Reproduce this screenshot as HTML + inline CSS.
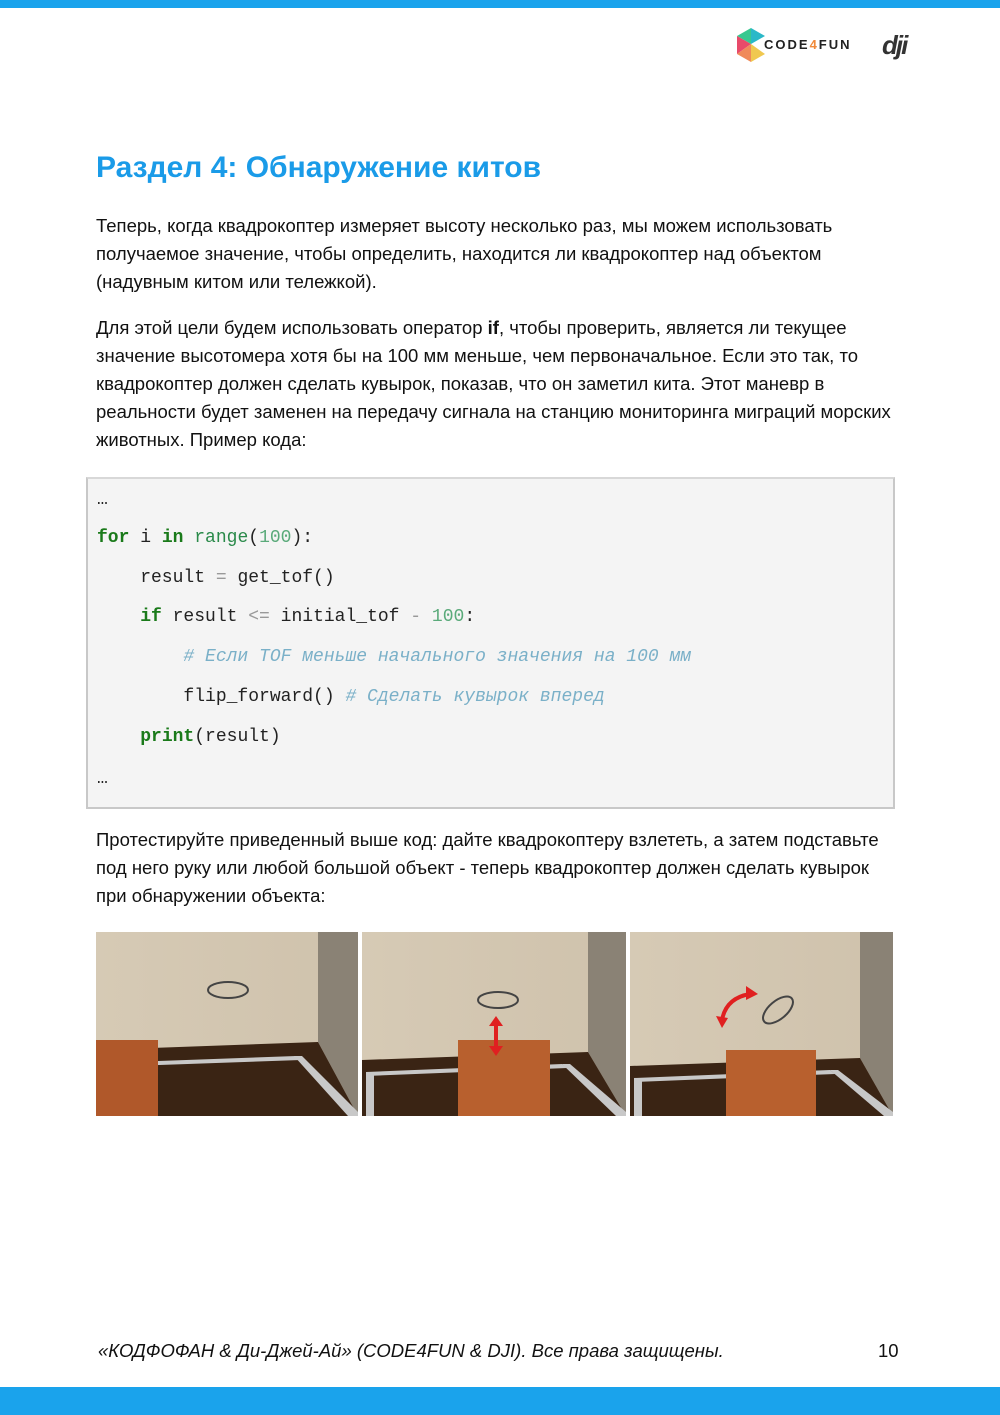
<!DOCTYPE html>
<html><head><meta charset="utf-8"><style>
body{margin:0;width:1000px;height:1415px;position:relative;background:#fff;font-family:"Liberation Sans",Arial,sans-serif;color:#111;overflow:hidden}
.abs{position:absolute}
.p{position:absolute;left:96px;font-size:18.5px;line-height:28px;white-space:nowrap}
.code{position:absolute;left:86px;top:477px;width:805px;height:328px;background:#f4f4f4;border:2px solid #c8c8c8;border-top-color:#d8d8d8}
.cl{position:absolute;left:9px;font-family:"Liberation Mono",monospace;font-size:18px;white-space:pre;color:#222;line-height:20px}
.k{color:#1a7a1a;font-weight:bold}.n{color:#5aaa7a}.c{color:#7ab0c8;font-style:italic}.o{color:#999}
</style></head><body>
<div class="abs" style="left:0;top:0;width:1000px;height:8px;background:#1aa3ec"></div>
<div class="abs" style="left:0;top:1387px;width:1000px;height:28px;background:#1aa3ec"></div>
<svg class="abs" style="left:733px;top:26px" width="36" height="40" viewBox="0 0 36 40">
<polygon points="18,2 32,10 18,18" fill="#2ab8c8"/><polygon points="18,2 4,10 18,18" fill="#38c890"/>
<polygon points="4,10 4,28 18,18" fill="#e84a6a"/><polygon points="4,28 18,36 18,18" fill="#f08a5a"/>
<polygon points="18,36 32,28 18,18" fill="#f0c850"/></svg>
<div class="abs" style="left:764px;top:37px;font-size:13px;font-weight:bold;letter-spacing:2px;color:#222">CODE<span style="color:#f08a3a">4</span>FUN</div>
<div class="abs" style="left:882px;top:30px;font-size:26px;font-weight:bold;font-style:italic;color:#333;letter-spacing:-2px">dji</div>
<div class="abs" style="left:96px;top:151px;font-size:30px;font-weight:bold;color:#1a9be8">Раздел 4: Обнаружение китов</div>
<div class="p" style="top:212px">Теперь, когда квадрокоптер измеряет высоту несколько раз, мы можем использовать<br>получаемое значение, чтобы определить, находится ли квадрокоптер над объектом<br>(надувным китом или тележкой).</div>
<div class="p" style="top:314px">Для этой цели будем использовать оператор <b>if</b>, чтобы проверить, является ли текущее<br>значение высотомера хотя бы на 100 мм меньше, чем первоначальное. Если это так, то<br>квадрокоптер должен сделать кувырок, показав, что он заметил кита. Этот маневр в<br>реальности будет заменен на передачу сигнала на станцию мониторинга миграций морских<br>животных. Пример кода:</div>
<div class="code">
<div class="cl" style="top:11px">…</div>
<div class="cl" style="top:49px"><span class="k">for</span> i <span class="k">in</span> <span style="color:#2a8a4a">range</span>(<span class="n">100</span>):</div>
<div class="cl" style="top:89px">    result <span class="o">=</span> get_tof()</div>
<div class="cl" style="top:128px">    <span class="k">if</span> result <span class="o">&lt;=</span> initial_tof <span class="o">-</span> <span class="n">100</span>:</div>
<div class="cl" style="top:168px">        <span class="c"># Если TOF меньше начального значения на 100 мм</span></div>
<div class="cl" style="top:208px">        flip_forward() <span class="c"># Сделать кувырок вперед</span></div>
<div class="cl" style="top:248px">    <span class="k">print</span>(result)</div>
<div class="cl" style="top:290px">…</div>
</div>
<div class="p" style="top:826px">Протестируйте приведенный выше код: дайте квадрокоптеру взлететь, а затем подставьте<br>под него руку или любой большой объект - теперь квадрокоптер должен сделать кувырок<br>при обнаружении объекта:</div>
<svg class="abs" style="left:96px;top:932px" width="797" height="184">
<defs><linearGradient id="w" x1="0" x2="1"><stop offset="0" stop-color="#d6cab5"/><stop offset="1" stop-color="#cfc2ac"/></linearGradient></defs>
<g>
<rect x="0" y="0" width="262" height="184" fill="url(#w)"/>
<polygon points="222,0 262,0 262,184 222,110" fill="#8a8275"/>
<polygon points="0,118 222,110 262,184 0,184" fill="#3a2414"/>
<polygon points="35,130 200,124 205,128 35,134" fill="#c8c8c8"/>
<polygon points="198,124 206,124 262,180 262,184 252,184" fill="#c8c8c8"/>
<rect x="0" y="108" width="62" height="76" fill="#b0582a"/>
<ellipse cx="132" cy="58" rx="20" ry="8" fill="none" stroke="#444" stroke-width="2"/>
</g>
<g transform="translate(266,0)">
<rect x="0" y="0" width="264" height="184" fill="url(#w)"/>
<polygon points="226,0 264,0 264,184 226,120" fill="#8a8275"/>
<polygon points="0,128 226,120 264,184 0,184" fill="#3a2414"/>
<polygon points="4,140 200,132 205,136 4,144" fill="#c8c8c8"/>
<rect x="4" y="140" width="8" height="44" fill="#c8c8c8"/>
<polygon points="200,132 208,132 264,180 264,184 254,184" fill="#c8c8c8"/>
<rect x="96" y="108" width="92" height="76" fill="#b8602e"/>
<ellipse cx="136" cy="68" rx="20" ry="8" fill="none" stroke="#444" stroke-width="2"/>
<rect x="132" y="92" width="4" height="24" fill="#e02020"/>
<polygon points="127,94 141,94 134,84" fill="#e02020"/><polygon points="127,114 141,114 134,124" fill="#e02020"/>
</g>
<g transform="translate(534,0)">
<rect x="0" y="0" width="263" height="184" fill="url(#w)"/>
<polygon points="230,0 263,0 263,184 230,126" fill="#8a8275"/>
<polygon points="0,134 230,126 263,184 0,184" fill="#3a2414"/>
<polygon points="4,146 200,138 205,142 4,150" fill="#c8c8c8"/>
<rect x="4" y="146" width="8" height="38" fill="#c8c8c8"/>
<polygon points="200,138 208,138 263,180 263,184 254,184" fill="#c8c8c8"/>
<rect x="96" y="118" width="90" height="66" fill="#b8602e"/>
<path d="M92,88 Q96,66 120,62" fill="none" stroke="#e02020" stroke-width="4"/>
<polygon points="116,54 128,62 116,68" fill="#e02020"/><polygon points="86,84 98,86 92,96" fill="#e02020"/>
<ellipse cx="148" cy="78" rx="18" ry="9" transform="rotate(-40 148 78)" fill="none" stroke="#444" stroke-width="2"/>
</g>
</svg>
<div class="abs" style="left:98px;top:1340px;font-size:18.5px;font-style:italic">«КОДФОФАН &amp; Ди-Джей-Ай» (CODE4FUN &amp; DJI). Все права защищены.</div>
<div class="abs" style="left:878px;top:1340px;font-size:18.5px">10</div>
</body></html>
